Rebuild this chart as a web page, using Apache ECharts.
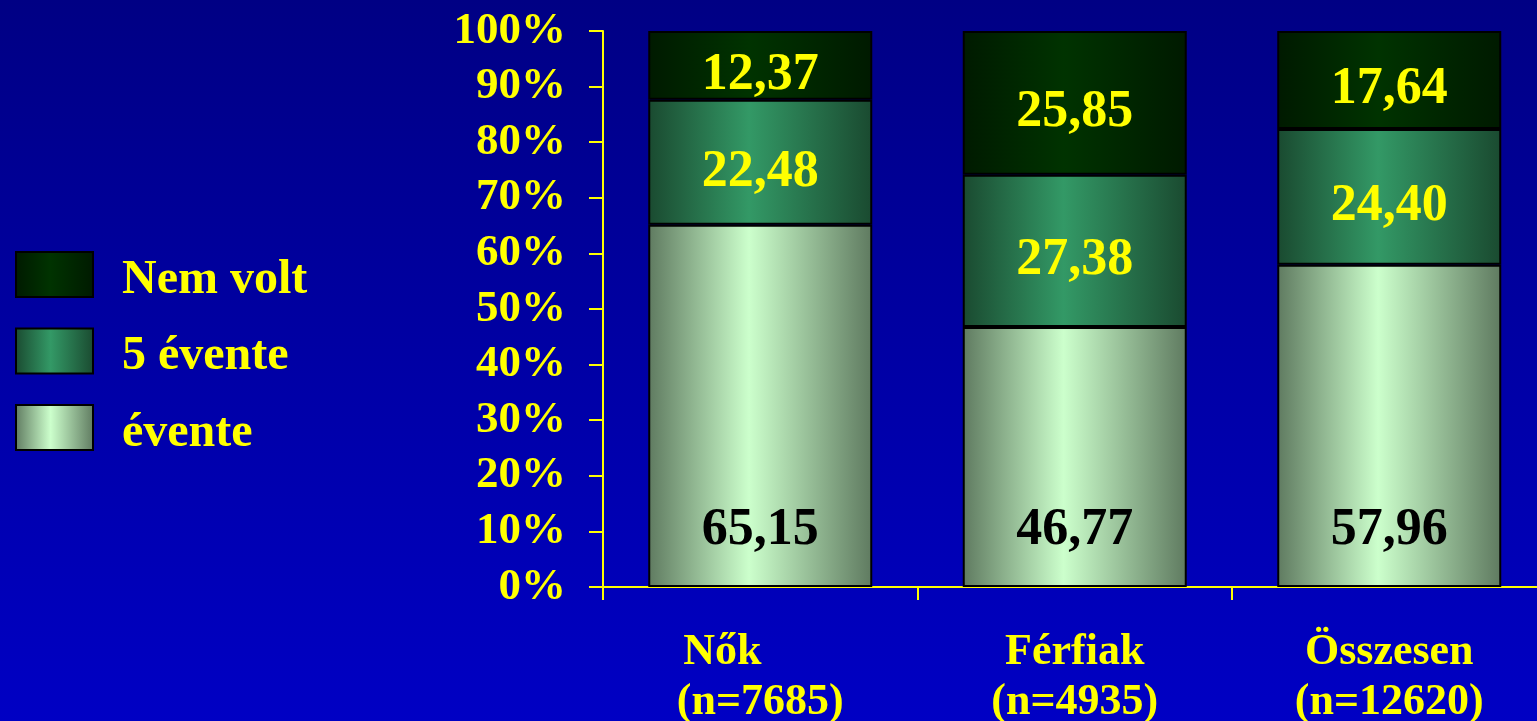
<!DOCTYPE html>
<html>
<head>
<meta charset="utf-8">
<script src="https://cdn.jsdelivr.net/npm/echarts@6/dist/echarts.min.js"></script>
<style>
  html, body { margin: 0; padding: 0; }
  #main {
    width: 1537px; height: 721px;
    background: linear-gradient(to bottom, #000084 0%, #0000a8 55%, #0000c4 100%);
  }
</style>
</head>
<body>
<div id="main"></div>
<script>
// kategóriák és értékek (%)
var categories = ['Nők', 'Férfiak', 'Összesen'];
var sampleSizes = ['(n=7685)', '(n=4935)', '(n=12620)'];
var evente = [65.15, 46.77, 57.96];
var otEvente = [22.48, 27.38, 24.40];
var nemVolt = [12.37, 25.85, 17.64];
var legendOrder = ['Nem volt', '5 évente', 'évente'];

var FONT = '"Liberation Serif", "Times New Roman", serif';
var YELLOW = '#ffff00';

function grad(edge, mid) {
  return new echarts.graphic.LinearGradient(0, 0, 1, 0, [
    { offset: 0, color: edge },
    { offset: 0.45, color: mid },
    { offset: 1, color: edge }
  ]);
}

function fmt(p) {
  return p.value.toFixed(2).replace('.', ',');
}

var myChart = echarts.init(document.getElementById('main'));

myChart.setOption({
  backgroundColor: 'transparent',
  animation: false,
  grid: { left: 603, top: 31, bottom: 134, width: 943.5, containLabel: false, outerBoundsMode: 'none' },
  legend: {
    data: legendOrder,
    orient: 'vertical',
    left: 10,
    top: 246,
    icon: 'rect',
    itemWidth: 77,
    itemHeight: 45,
    itemGap: 23,
    formatter: '{t|{name}}',
    textStyle: {
      color: YELLOW, fontSize: 48, fontWeight: 'bold', fontFamily: FONT,
      rich: { t: { color: YELLOW, fontSize: 48, fontWeight: 'bold', fontFamily: FONT, padding: [12, 0, 0, 24] } }
    }
  },
  xAxis: {
    type: 'category',
    data: categories,
    axisLine: { lineStyle: { color: YELLOW, width: 2 } },
    axisTick: { show: true, length: 13, lineStyle: { color: YELLOW, width: 2 } },
    axisLabel: {
      margin: 41,
      interval: 0,
      color: YELLOW,
      fontSize: 44,
      fontWeight: 'bold',
      fontFamily: FONT,
      lineHeight: 50,
      formatter: function (v, i) {
        var first = i === 0 ? '{a|' + v + '}' : '{b|' + v + '}';
        return first + '\n{b|' + sampleSizes[i] + '}';
      },
      rich: {
        a: { color: YELLOW, fontSize: 44, fontWeight: 'bold', fontFamily: FONT, lineHeight: 50, padding: [0, 76, 0, 0] },
        b: { color: YELLOW, fontSize: 44, fontWeight: 'bold', fontFamily: FONT, lineHeight: 50 }
      }
    }
  },
  yAxis: {
    type: 'value',
    min: 0,
    max: 100,
    interval: 10,
    splitLine: { show: false },
    axisLine: { show: true, lineStyle: { color: YELLOW, width: 2 } },
    axisTick: { show: true, length: 14, lineStyle: { color: YELLOW, width: 2 } },
    axisLabel: {
      margin: 37,
      color: YELLOW,
      fontSize: 45,
      fontWeight: 'bold',
      fontFamily: FONT,
      formatter: '{value}%'
    }
  },
  series: [
    {
      name: 'évente',
      type: 'bar',
      stack: 'total',
      barWidth: 224,
      data: evente,
      itemStyle: { color: grad('#5f7a60', '#ccffcc'), borderColor: '#000', borderWidth: 2 },
      label: {
        show: true, position: 'insideBottom', distance: 30,
        color: '#000', fontSize: 52, fontWeight: 'bold', fontFamily: FONT, formatter: fmt
      }
    },
    {
      name: '5 évente',
      type: 'bar',
      stack: 'total',
      barWidth: 224,
      data: otEvente,
      itemStyle: { color: grad('#1a4a30', '#339966'), borderColor: '#000', borderWidth: 2 },
      label: {
        show: true, position: 'inside', offset: [0, 10],
        color: YELLOW, fontSize: 52, fontWeight: 'bold', fontFamily: FONT, formatter: fmt
      }
    },
    {
      name: 'Nem volt',
      type: 'bar',
      stack: 'total',
      barWidth: 224,
      data: nemVolt,
      itemStyle: { color: grad('#001a00', '#003300'), borderColor: '#000', borderWidth: 2 },
      label: {
        show: true, position: 'inside', offset: [0, 10],
        color: YELLOW, fontSize: 52, fontWeight: 'bold', fontFamily: FONT, formatter: fmt
      }
    }
  ]
});
</script>
</body>
</html>
